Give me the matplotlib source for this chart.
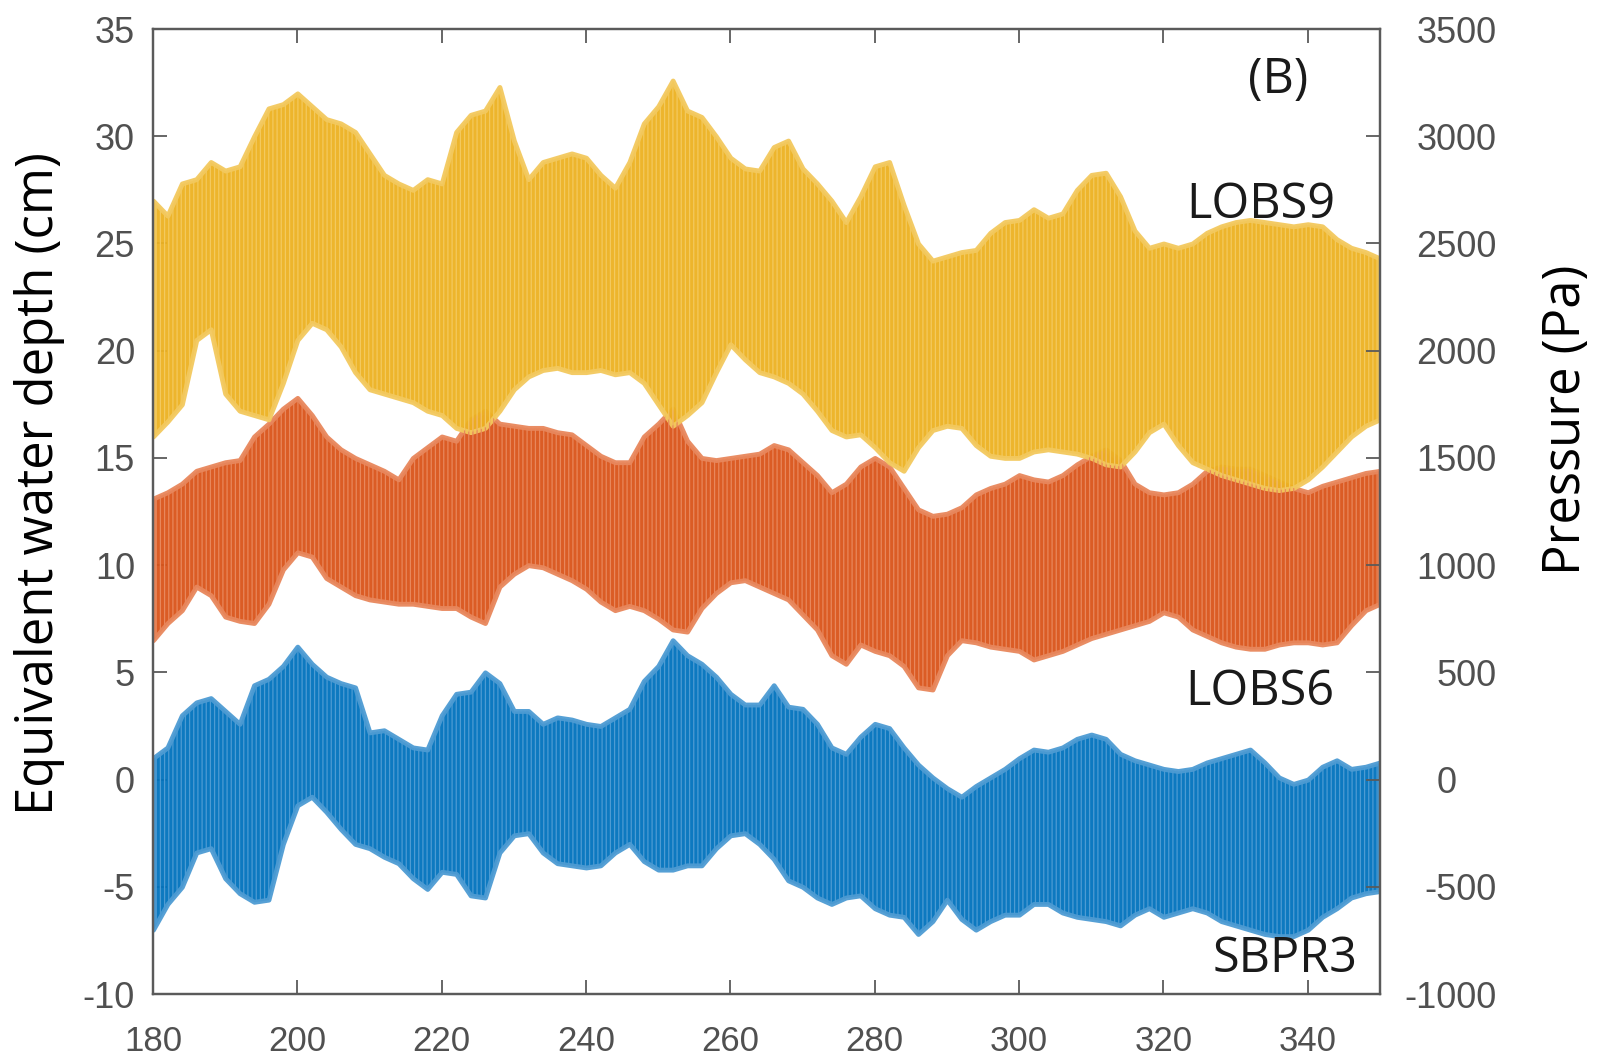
import matplotlib
matplotlib.use("Agg")
import matplotlib.pyplot as plt

# sample days (envelope read every 2 days)
days = list(range(180, 352, 2))

# LOBS9 envelope (cm)
lobs9_hi = [27.0, 26.3, 27.8, 28.0, 28.8, 28.4, 28.6, 30.0, 31.3, 31.5,
            32.0, 31.4, 30.8, 30.6, 30.2, 29.2, 28.2, 27.8, 27.5, 28.0,
            27.8, 30.2, 31.0, 31.2, 32.3, 29.8, 28.0, 28.8, 29.0, 29.2,
            29.0, 28.2, 27.6, 28.8, 30.6, 31.4, 32.6, 31.2, 30.9, 30.0,
            29.0, 28.5, 28.4, 29.5, 29.8, 28.5, 27.8, 27.0, 26.0, 27.2,
            28.6, 28.8, 26.8, 25.0, 24.2, 24.4, 24.6, 24.7, 25.5, 26.0,
            26.1, 26.6, 26.2, 26.4, 27.5, 28.2, 28.3, 27.2, 25.6, 24.8,
            25.0, 24.8, 25.0, 25.5, 25.8, 26.0, 26.1, 26.0, 25.9, 25.8,
            25.9, 25.8, 25.2, 24.8, 24.6, 24.3]
lobs9_lo = [16.0, 16.7, 17.5, 20.5, 21.0, 18.0, 17.2, 17.0, 16.8, 18.5,
            20.5, 21.3, 21.0, 20.2, 19.0, 18.2, 18.0, 17.8, 17.6, 17.2,
            17.0, 16.4, 16.2, 16.4, 17.2, 18.2, 18.8, 19.1, 19.2, 19.0,
            19.0, 19.1, 18.9, 19.0, 18.5, 17.5, 16.5, 17.0, 17.6, 19.0,
            20.3, 19.6, 19.0, 18.8, 18.5, 18.0, 17.2, 16.3, 16.0, 16.1,
            15.5, 14.8, 14.4, 15.5, 16.3, 16.5, 16.4, 15.6, 15.1, 15.0,
            15.0, 15.3, 15.4, 15.3, 15.2, 15.0, 14.7, 14.6, 15.3, 16.2,
            16.6, 15.6, 14.8, 14.5, 14.2, 14.0, 13.8, 13.6, 13.5, 13.6,
            14.0, 14.6, 15.3, 16.0, 16.5, 16.8]

# LOBS6 envelope (cm)
lobs6_hi = [13.1, 13.4, 13.8, 14.4, 14.6, 14.8, 14.9, 16.0, 16.6, 17.3,
            17.8, 17.0, 16.0, 15.4, 15.0, 14.7, 14.4, 14.0, 15.0, 15.5,
            16.0, 15.8, 16.8, 17.2, 16.6, 16.5, 16.4, 16.4, 16.2, 16.1,
            15.6, 15.1, 14.8, 14.8, 16.0, 16.6, 17.3, 15.8, 15.0, 14.9,
            15.0, 15.1, 15.2, 15.6, 15.4, 14.8, 14.2, 13.4, 13.8, 14.6,
            15.0, 14.6, 13.6, 12.6, 12.3, 12.4, 12.7, 13.3, 13.6, 13.8,
            14.2, 14.0, 13.9, 14.2, 14.7, 15.1, 15.4, 14.9, 13.8, 13.4,
            13.3, 13.4, 13.8, 14.4, 14.6, 14.5, 14.5, 14.2, 13.9, 13.6,
            13.4, 13.7, 13.9, 14.1, 14.3, 14.4]
lobs6_lo = [6.5, 7.3, 7.9, 9.0, 8.6, 7.6, 7.4, 7.3, 8.2, 9.8,
            10.6, 10.4, 9.4, 9.0, 8.6, 8.4, 8.3, 8.2, 8.2, 8.1,
            8.0, 8.0, 7.6, 7.3, 9.0, 9.6, 10.0, 9.9, 9.6, 9.3,
            8.9, 8.3, 7.9, 8.1, 7.9, 7.5, 7.0, 6.9, 8.0, 8.7,
            9.2, 9.3, 9.0, 8.7, 8.4, 7.7, 7.0, 5.8, 5.4, 6.3,
            6.0, 5.8, 5.3, 4.3, 4.2, 5.8, 6.5, 6.4, 6.2, 6.1,
            6.0, 5.6, 5.8, 6.0, 6.3, 6.6, 6.8, 7.0, 7.2, 7.4,
            7.8, 7.6, 7.0, 6.7, 6.4, 6.2, 6.1, 6.1, 6.3, 6.4,
            6.4, 6.3, 6.4, 7.2, 7.9, 8.2]

# SBPR3 envelope (cm)
sbpr3_hi = [1.0, 1.5, 3.0, 3.6, 3.8, 3.2, 2.6, 4.4, 4.7, 5.3,
            6.2, 5.4, 4.8, 4.5, 4.3, 2.2, 2.3, 1.9, 1.5, 1.4,
            3.0, 4.0, 4.1, 5.0, 4.5, 3.2, 3.2, 2.6, 2.9, 2.8,
            2.6, 2.5, 2.9, 3.3, 4.6, 5.3, 6.5, 5.8, 5.4, 4.8,
            4.0, 3.5, 3.5, 4.4, 3.4, 3.3, 2.6, 1.5, 1.2, 2.0,
            2.6, 2.4, 1.5, 0.7, 0.1, -0.4, -0.8, -0.3, 0.1, 0.5,
            1.0, 1.4, 1.3, 1.5, 1.9, 2.1, 1.9, 1.2, 0.9, 0.7,
            0.5, 0.4, 0.5, 0.8, 1.0, 1.2, 1.4, 0.8, 0.1, -0.2,
            0.0, 0.6, 0.9, 0.5, 0.6, 0.8]
sbpr3_lo = [-7.0, -5.8, -5.0, -3.4, -3.2, -4.6, -5.3, -5.7, -5.6, -3.0,
            -1.2, -0.8, -1.5, -2.3, -3.0, -3.2, -3.6, -3.9, -4.6, -5.1,
            -4.3, -4.4, -5.4, -5.5, -3.4, -2.6, -2.5, -3.4, -3.9, -4.0,
            -4.1, -4.0, -3.4, -3.0, -3.8, -4.2, -4.2, -4.0, -4.0, -3.2,
            -2.6, -2.5, -3.0, -3.7, -4.7, -5.0, -5.5, -5.8, -5.5, -5.4,
            -6.0, -6.3, -6.4, -7.2, -6.6, -5.6, -6.5, -7.0, -6.6, -6.3,
            -6.3, -5.8, -5.8, -6.2, -6.4, -6.5, -6.6, -6.8, -6.3, -6.0,
            -6.4, -6.2, -6.0, -6.2, -6.6, -6.8, -7.0, -7.2, -7.3, -7.3,
            -7.0, -6.4, -6.0, -5.5, -5.3, -5.2]

x_ticks = [180, 200, 220, 240, 260, 280, 300, 320, 340]
depth_ticks = [-10, -5, 0, 5, 10, 15, 20, 25, 30, 35]
pressure_ticks = [-1000, -500, 0, 500, 1000, 1500, 2000, 2500, 3000, 3500]

plt.rcParams["hatch.linewidth"] = 0.9
plt.rcParams["axes.unicode_minus"] = False

AXIS_GREY = "#5a5a5a"
LABEL_GREY = "#505050"


def draw_band(ax, x, lo, hi, core, light):
    # solid band with a soft rim and fine vertical streaks
    ax.fill_between(x, lo, hi, facecolor=core, edgecolor=light,
                    linewidth=3.5, alpha=0.95, zorder=2)
    ax.fill_between(x, lo, hi, facecolor="none", edgecolor=light,
                    hatch="||||", linewidth=0, zorder=3)


fig = plt.figure(figsize=(15.97, 10.56), dpi=100)
fig.patch.set_facecolor("white")
ax = fig.add_axes([0.0958, 0.0587, 0.7683, 0.9138])
ax2 = ax.twinx()

draw_band(ax, days, sbpr3_lo, sbpr3_hi, "#0072BD", "#4d9bd3")
draw_band(ax, days, lobs6_lo, lobs6_hi, "#D95319", "#e8875c")
draw_band(ax, days, lobs9_lo, lobs9_hi, "#EDB120", "#f3c95e")

ax.set_xlim(180, 350)
ax.set_ylim(-10, 35)
ax2.set_ylim(-1000, 3500)

ax.set_xticks(x_ticks)
ax.set_yticks(depth_ticks)
ax2.set_yticks(pressure_ticks)
# the zero label on the pressure axis sits further left than the rest
ax2.set_yticklabels([str(p) if p != 0 else "0    " for p in pressure_ticks])

for a in (ax, ax2):
    for s in a.spines.values():
        s.set_color(AXIS_GREY)
        s.set_linewidth(1.6)

ax.tick_params(axis="both", direction="in", length=10, width=1.3,
               color=AXIS_GREY, labelcolor=LABEL_GREY, top=True, right=False)
ax.tick_params(axis="y", pad=13)
ax.tick_params(axis="x", pad=22)
ax2.tick_params(axis="y", direction="in", length=10, width=1.3,
                color=AXIS_GREY, labelcolor=LABEL_GREY, pad=84)

for lab in ax.get_yticklabels():
    lab.set_fontfamily("Liberation Sans")
    lab.set_fontsize(26)
for lab in ax.get_xticklabels():
    lab.set_fontfamily("Liberation Sans")
    lab.set_fontsize(25)
for lab in ax2.get_yticklabels():
    lab.set_fontfamily("Liberation Sans")
    lab.set_fontsize(26)
    lab.set_horizontalalignment("right")

label_font = dict(family="Open Sans", fontsize=36.5, color="black")
fig.text(40 / 1597, 1 - 484 / 1056, "Equivalent water depth (cm)",
         rotation=90, ha="center", va="center", **label_font)
fig.text(1566 / 1597, 1 - 420 / 1056, "Pressure (Pa)",
         rotation=90, ha="center", va="center", **label_font)

note_font = dict(family="Open Sans", fontsize=35, color="#1a1a1a",
                 ha="center", va="center")
ax.text(335.9, 32.6, "(B)", **note_font)
ax.text(333.5, 26.8, "LOBS9", **note_font)
ax.text(333.4, 4.05, "LOBS6", **note_font)
ax.text(336.9, -8.4, "SBPR3", **note_font)

fig.savefig("out.png", dpi=100, facecolor="white")
